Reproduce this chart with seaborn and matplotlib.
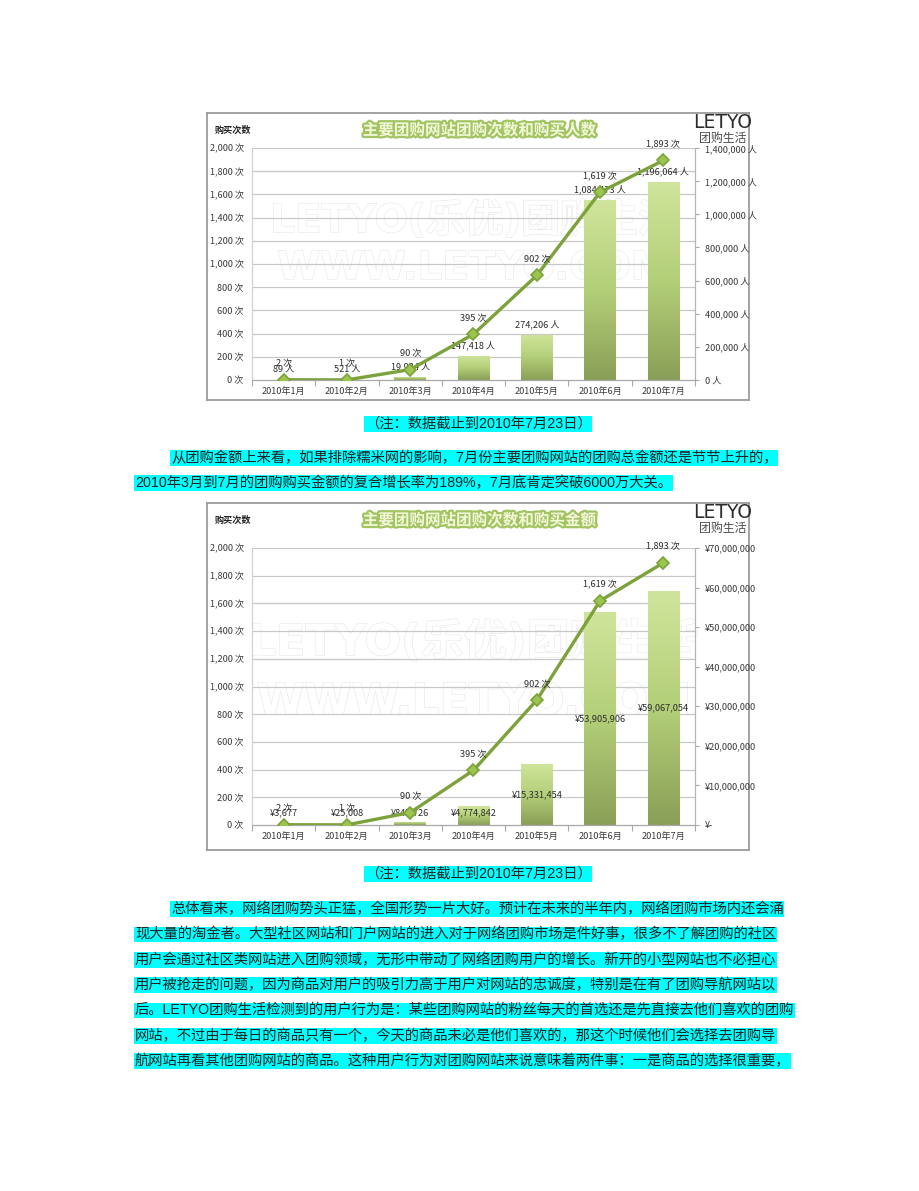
import numpy as np
import pandas as pd
import matplotlib
matplotlib.use("Agg")
import matplotlib.pyplot as plt
import seaborn as sns
from matplotlib import patheffects as pe
from matplotlib.colors import LinearSegmentedColormap
from matplotlib.ticker import FixedLocator

# ---------------- data ----------------
months = ["2010年1月", "2010年2月", "2010年3月", "2010年4月", "2010年5月", "2010年6月", "2010年7月"]
purchases = [2, 1, 90, 395, 902, 1619, 1893]              # 购买次数 (次)
buyers = [89, 521, 19934, 147418, 274206, 1084473, 1196064]  # 购买人数 (人)
amounts = [3677, 25008, 845726, 4774842, 15331454, 53905906, 59067054]  # 购买金额 (¥)
left_ticks = [0, 200, 400, 600, 800, 1000, 1200, 1400, 1600, 1800, 2000]
buyer_ticks = [0, 200000, 400000, 600000, 800000, 1000000, 1200000, 1400000]
amount_ticks = [0, 10000000, 20000000, 30000000, 40000000, 50000000, 60000000, 70000000]

title1 = "主要团购网站团购次数和购买人数"
title2 = "主要团购网站团购次数和购买金额"
axis_title = "购买次数"
logo_top = "LETYO"
logo_bottom = "团购生活"
watermark1 = "LETYO(乐优)团购生活"
watermark2 = "WWW.LETYO.COM"
note = "（注：数据截止到2010年7月23日）"
para1 = [
    "从团购金额上来看，如果排除糯米网的影响，7月份主要团购网站的团购总金额还是节节上升的，",
    "2010年3月到7月的团购购买金额的复合增长率为189%，7月底肯定突破6000万大关。",
]
para2 = [
    "总体看来，网络团购势头正猛，全国形势一片大好。预计在未来的半年内，网络团购市场内还会涌",
    "现大量的淘金者。大型社区网站和门户网站的进入对于网络团购市场是件好事，很多不了解团购的社区",
    "用户会通过社区类网站进入团购领域，无形中带动了网络团购用户的增长。新开的小型网站也不必担心",
    "用户被抢走的问题，因为商品对用户的吸引力高于用户对网站的忠诚度，特别是在有了团购导航网站以",
    "后。LETYO团购生活检测到的用户行为是：某些团购网站的粉丝每天的首选还是先直接去他们喜欢的团购",
    "网站，不过由于每日的商品只有一个，今天的商品未必是他们喜欢的，那这个时候他们会选择去团购导",
    "航网站再看其他团购网站的商品。这种用户行为对团购网站来说意味着两件事：一是商品的选择很重要，",
]

# ---------------- style ----------------
sns.set_theme(style="white")
CJK = ["Liberation Sans Narrow", "Noto Sans CJK SC", "DejaVu Sans"]
TXT = ["Liberation Sans", "Noto Sans CJK SC", "DejaVu Sans"]
plt.rcParams["font.family"] = CJK
plt.rcParams["axes.unicode_minus"] = False

W, H = 920, 1191
fig = plt.figure(figsize=(W / 100, H / 100), dpi=100)
fig.patch.set_facecolor("white")


def rect(x0, y0, x1, y1):
    return [x0 / W, 1 - y1 / H, (x1 - x0) / W, (y1 - y0) / H]


def ftext(x, y, s, **kw):
    return fig.text(x / W, 1 - y / H, s, **kw)


LINE_C = "#7ca23b"
MARK_FACE = "#9bc54f"
GRID_C = "#c8c8c8"
LABEL_C = "#3a3a3a"
cmap = LinearSegmentedColormap.from_list("bar", ["#d0e59c", "#b3cf78", "#8a9f57"])
grad = np.linspace(0, 1, 256)[:, None]


def draw_chart(frame, plot, bar_vals, bar_ticks, tick_fmt, label_fmt, inside_labels,
               title, wm_y1, wm_y2, wm_size):
    fx0, fy0, fx1, fy1 = frame
    px0, py0, px1, py1 = plot
    # frame / background
    bg = fig.add_axes(rect(*frame))
    bg.set_xticks([]); bg.set_yticks([])
    bg.set_facecolor("white")
    for s in bg.spines.values():
        s.set_color("#9c9c9c"); s.set_linewidth(1.3)

    # watermark (very faint outlined text, behind the plot)
    cx = (px0 + px1) / 2
    for y, s in ((wm_y1, watermark1), (wm_y2, watermark2)):
        bg.text(cx / W, 1 - y / H, s, transform=fig.transFigure, ha="center", va="center",
                fontsize=wm_size, color="white",
                family=["DejaVu Sans", "Noto Sans CJK SC"], fontweight="bold",
                path_effects=[pe.withStroke(linewidth=0.9, foreground="#e9e9e9")])

    # bars (right axis)
    ax = fig.add_axes(rect(*plot))
    ax.set_facecolor("none")
    df = pd.DataFrame({"month": months, "value": bar_vals})
    sns.barplot(data=df, x="month", y="value", ax=ax, width=0.5, color="#a9c46e",
                saturation=1, errorbar=None)
    top = bar_ticks[-1]
    ax.set_ylim(0, top)
    ax.set_xlim(-0.5, len(months) - 0.5)
    bars = list(ax.patches)
    for p in bars:
        x0, y0, w, h = p.get_x(), p.get_y(), p.get_width(), p.get_height()
        if h <= 0:
            continue
        im = ax.imshow(grad, cmap=cmap, extent=[x0, x0 + w, y0, y0 + h], aspect="auto",
                       origin="upper", zorder=2, interpolation="bilinear")
        im.set_clip_path(p)
        p.set_facecolor("none"); p.set_edgecolor("none")
    ax.set_ylim(0, top)
    ax.set_xlim(-0.5, len(months) - 0.5)
    # gridlines at the left-axis ticks
    for t in left_ticks[1:]:
        ax.axhline(t * top / left_ticks[-1], color=GRID_C, lw=0.9, zorder=0.5)
    ax.grid(False)
    ax.set_xlabel(""); ax.set_ylabel("")
    ax.yaxis.tick_right()
    ax.set_yticks(bar_ticks)
    ax.set_yticklabels([tick_fmt(t) for t in bar_ticks])
    ax.tick_params(axis="y", which="major", right=True, left=False, length=3, width=0.8,
                   color="#a8a8a8", labelsize=6.6, labelcolor=LABEL_C, pad=4, direction="out")
    ax.xaxis.set_minor_locator(FixedLocator(np.arange(-0.5, len(months), 1.0)))
    ax.tick_params(axis="x", which="major", length=0, labelsize=6.6, labelcolor=LABEL_C, pad=5)
    ax.tick_params(axis="x", which="minor", bottom=True, length=4, width=0.8, color="#a8a8a8",
                   direction="out")
    ax.spines["top"].set_visible(False)
    ax.spines["left"].set_color("#d2d2d2"); ax.spines["left"].set_linewidth(0.9)
    ax.spines["right"].set_color("#b5b5b5"); ax.spines["right"].set_linewidth(0.9)
    ax.spines["bottom"].set_color("#a8a8a8"); ax.spines["bottom"].set_linewidth(0.9)

    for i, v in enumerate(bar_vals):
        if inside_labels:
            yv = max(v / 2, top * 0.043)
            ax.annotate(label_fmt(v), (i, yv), ha="center", va="center", fontsize=6.6,
                        color="#2e2e2e", zorder=5)
        else:
            ax.annotate(label_fmt(v), (i, v), xytext=(0, 7.5), textcoords="offset points",
                        ha="center", va="center", fontsize=6.6, color="#2e2e2e", zorder=5)

    # line (left axis)
    axl = ax.twinx()
    ax.yaxis.tick_right()
    sns.pointplot(x=months, y=purchases, ax=axl, color=LINE_C, markers="D",
                  errorbar=None, markersize=6.5, linewidth=2.4)
    for ln in axl.lines:
        ln.set_markerfacecolor(MARK_FACE)
        ln.set_markeredgecolor(LINE_C)
        ln.set_markeredgewidth(1.2)
    axl.set_ylim(0, left_ticks[-1])
    axl.set_xlim(-0.5, len(months) - 0.5)
    axl.yaxis.tick_left()
    axl.set_yticks(left_ticks)
    axl.set_yticklabels([f"{t:,} 次" for t in left_ticks])
    axl.tick_params(axis="y", length=0, labelsize=6.6, labelcolor=LABEL_C, pad=6)
    axl.set_ylabel(""); axl.set_xlabel("")
    axl.grid(False)
    for s in axl.spines.values():
        s.set_visible(False)
    for i, c in enumerate(purchases):
        axl.annotate(f"{c:,} 次", (i, c), xytext=(0, 11.5), textcoords="offset points",
                     ha="center", va="center", fontsize=6.6, color="#2e2e2e", zorder=6)

    # titles / logo
    ftext(479, fy0 + 17, title, ha="center", va="center", fontsize=11.2, fontweight="bold",
          color="#f3f8d8", family=["Noto Sans CJK SC"],
          path_effects=[pe.withStroke(linewidth=3.2, foreground="#a3c463")], zorder=5)
    ftext(215, fy0 + 17, axis_title, ha="left", va="center", fontsize=6.6, fontweight="bold",
          color="#222222", family=["Noto Sans CJK SC"], zorder=5)
    ftext(723, fy0 + 9, logo_top, ha="center", va="center", fontsize=13.5, color="#2c2c2c",
          family=["Liberation Sans Narrow", "DejaVu Sans"], zorder=5)
    ftext(723, fy0 + 25, logo_bottom, ha="center", va="center", fontsize=8.6, color="#4a4a4a",
          family=["Noto Sans CJK SC"], zorder=5)


draw_chart((207, 113, 749, 400), (252, 148, 695, 380), buyers, buyer_ticks,
           lambda t: f"{t:,} 人", lambda v: f"{v:,} 人", False,
           title1, 221, 268, 28)
draw_chart((207, 503, 749, 850), (252, 548, 695, 825), amounts, amount_ticks,
           lambda t: "¥-" if t == 0 else f"¥{t:,}", lambda v: f"¥{v:,}", True,
           title2, 643, 702, 31)

# ---------------- page text ----------------
FS = 10.3
hl = dict(boxstyle="square,pad=0.05", facecolor="#00ffff", edgecolor="none")
ftext(478, 424, note, ha="center", va="center", fontsize=FS, color="#222222",
      family=TXT, bbox=hl)
ftext(171, 458, para1[0], ha="left", va="center", fontsize=FS, color="#222222",
      family=TXT, bbox=hl)
ftext(135, 483, para1[1], ha="left", va="center", fontsize=FS, color="#222222",
      family=TXT, bbox=hl)
ftext(478, 874, note, ha="center", va="center", fontsize=FS, color="#222222",
      family=TXT, bbox=hl)
for k, line in enumerate(para2):
    ftext(171 if k == 0 else 135, 909 + 25.4 * k, line, ha="left", va="center",
          fontsize=FS, color="#222222", family=TXT, bbox=hl)

fig.savefig("out.png", dpi=100, facecolor="white")
